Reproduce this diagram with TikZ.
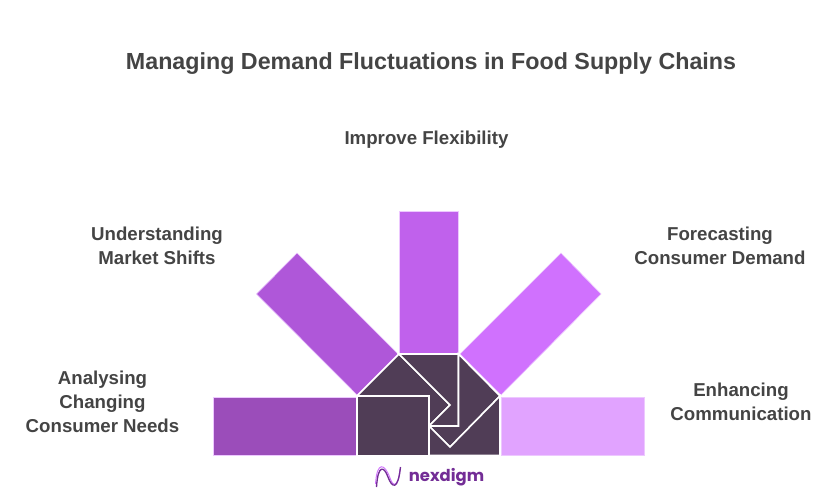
\documentclass[tikz,border=0pt]{standalone}
\usepackage{fontspec}
\setmainfont{Liberation Sans}
\newfontfamily\logofont{Poppins}
\usetikzlibrary{positioning}
\definecolor{textgrey}{RGB}{68,68,68}
\definecolor{hubdark}{RGB}{80,61,86}
\definecolor{barone}{RGB}{155,77,186}
\definecolor{bartwo}{RGB}{175,87,217}
\definecolor{barthree}{RGB}{192,97,236}
\definecolor{barfour}{RGB}{208,113,254}
\definecolor{barfive}{RGB}{225,163,255}
\definecolor{logopurple}{RGB}{115,45,150}
\tikzset{
  bar/.style={draw=barfive!60!white,line width=0.5pt,line join=miter},
  hub/.style={fill=hubdark,draw=white,line width=1.2pt,line join=miter},
  label/.style={font=\bfseries\fontsize{14}{18}\selectfont,text=textgrey,align=center,inner sep=0pt},
}
\begin{document}
\begin{tikzpicture}[x=0.75pt,y=-0.75pt]
  \useasboundingbox (0,0) rectangle (840,492);
  \fill[white] (0,0) rectangle (840,492);
  % bars
  \fill[bar,fill=barone] (213.5,397) rectangle (357,455);
  \fill[bar,fill=bartwo] (297,253) -- (256.5,294) -- (357,395) -- (398,354) -- cycle;
  \fill[bar,fill=barthree] (399.5,211) rectangle (458,353);
  \fill[bar,fill=barfour] (561,253) -- (601,294) -- (501,395) -- (460,354) -- cycle;
  \fill[bar,fill=barfive] (501,397) rectangle (644,455);
  % hub
  \filldraw[hub] (429,396) -- (357,396) -- (399,354) -- (450,405) -- (429,426) -- cycle;
  \filldraw[hub] (399,354) -- (458.5,354) -- (458.5,426) -- (429,426) -- (450,405) -- cycle;
  \filldraw[hub] (458.5,354) -- (500,396) -- (450,447) -- (429,426) -- (458.5,426) -- cycle;
  \filldraw[hub] (500,396) -- (500,455.5) -- (429,455.5) -- (429,426) -- (450,447) -- cycle;
  \filldraw[hub] (357,396.5) rectangle (429,455.5);
  % texts
  \node[label,font=\bfseries\fontsize{17.45}{22}\selectfont] (title) at (431,64) {Managing Demand Fluctuations in Food Supply Chains};
  \node[label] (flex) at (426.5,140) {Improve Flexibility};
  \node[label] (market) at (157,246) {Understanding\\Market Shifts};
  \node[label] (forecast) at (720,246) {Forecasting\\Consumer Demand};
  \node[label] (needs) at (102.5,402) {Analysing\\Changing\\Consumer Needs};
  \node[label] (comm) at (741,402) {Enhancing\\Communication};
  % logo
  \draw[barfour,line width=0.7pt] (375.5,484) .. controls (377,460) and (385,464) .. (390,478) .. controls (393,487) and (398,488) .. (400,469);
  \draw[logopurple,line width=1pt] (376.5,487) .. controls (378,464) and (384,466) .. (388,477) .. controls (392,488) and (398,491) .. (400.5,467);
  \node[font=\logofont\bfseries\fontsize{12.3}{18}\selectfont,text=logopurple,inner sep=0pt] (logo) at (446.5,477) {nexdigm};
\end{tikzpicture}
\end{document}
